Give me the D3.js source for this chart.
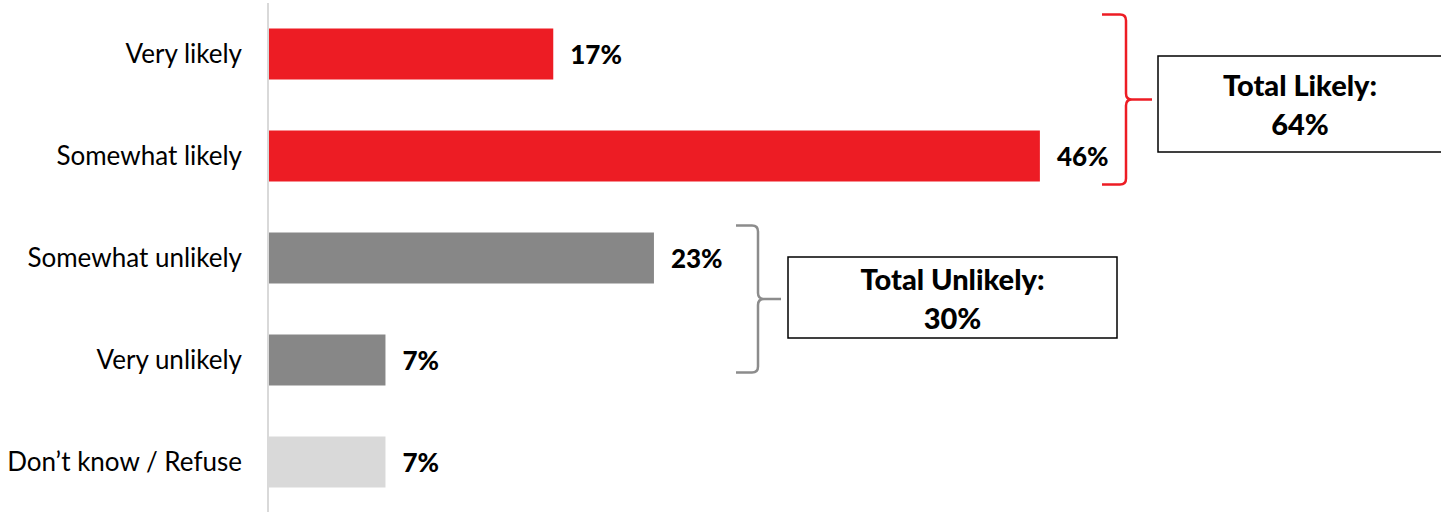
<!DOCTYPE html>
<html><head><meta charset="utf-8">
<script src="https://cdn.jsdelivr.net/npm/d3@7"></script>
<style>html,body{margin:0;padding:0;background:#fff;}svg{display:block;}</style>
</head><body>
<script>
const categories = ["Very likely", "Somewhat likely", "Somewhat unlikely", "Very unlikely", "Don\u2019t know / Refuse"];
const values = [17, 46, 23, 7, 7];
const colors = ["#ED1C24", "#ED1C24", "#878787", "#878787", "#D9D9D9"];
const groups = [
  {label: "Total Likely:", total: "64%", from: 0, to: 1, color: "#ED1C24"},
  {label: "Total Unlikely:", total: "30%", from: 2, to: 3, color: "#8C8C8C"}
];

const W = 1441, H = 512;
const svg = d3.select("body").append("svg").attr("width", W).attr("height", H);
const font = "Lato, 'Open Sans', sans-serif";

const x = d3.scaleLinear().domain([0, 100]).range([268, 268 + 1678]);
const y = d3.scaleBand().domain(categories).range([3, 513]).paddingInner(0.5).paddingOuter(0.25);

// axis line
svg.append("line").attr("x1", 268).attr("x2", 268).attr("y1", 3).attr("y2", H)
  .attr("stroke", "#D9D9D9").attr("stroke-width", 2);

svg.selectAll("rect.bar").data(categories).join("rect").attr("class", "bar")
  .attr("x", x(0) + 1).attr("y", d => y(d))
  .attr("width", (d, i) => x(values[i]) - x(0) - 1).attr("height", y.bandwidth())
  .attr("fill", (d, i) => colors[i]);

svg.selectAll("text.cat").data(categories).join("text").attr("class", "cat")
  .attr("x", 242).attr("y", d => y(d) + y.bandwidth() / 2)
  .attr("dy", "0.35em").attr("text-anchor", "end")
  .attr("font-family", font).attr("font-size", 26).attr("fill", "#000")
  .text(d => d);

svg.selectAll("text.val").data(categories).join("text").attr("class", "val")
  .attr("x", (d, i) => x(values[i]) + 17).attr("y", d => y(d) + y.bandwidth() / 2 + 1)
  .attr("dy", "0.35em").attr("font-family", font).attr("font-weight", "900")
  .attr("font-size", 26).attr("fill", "#000")
  .text((d, i) => values[i] + "%");

// brackets
function bracket(xl, xv, xt, y0, y1, color) {
  const ym = (y0 + y1) / 2, r = 6;
  const p = `M${xl},${y0} L${xv - r},${y0} Q${xv},${y0} ${xv},${y0 + r} L${xv},${ym - r} Q${xv},${ym} ${xv + r},${ym} L${xt},${ym} M${xv + r},${ym} Q${xv},${ym} ${xv},${ym + r} L${xv},${y1 - r} Q${xv},${y1} ${xv - r},${y1} L${xl},${y1}`;
  svg.append("path").attr("d", p).attr("fill", "none").attr("stroke", color).attr("stroke-width", 2.5);
}
const g0 = groups[0], g1 = groups[1];
bracket(1102, 1126, 1152, y(categories[g0.from]) - 14, y(categories[g0.to]) + y.bandwidth() + 3, g0.color);
bracket(736, 758, 781, y(categories[g1.from]) - 7, y(categories[g1.to]) + y.bandwidth() - 13, g1.color);

function box(x0, y0, w, h, g) {
  svg.append("rect").attr("x", x0).attr("y", y0).attr("width", w).attr("height", h)
    .attr("fill", "#fff").attr("stroke", "#000").attr("stroke-width", 1.5);
  const cx = x0 + w / 2;
  svg.append("text").attr("x", cx).attr("y", y0 + h / 2 - 18).attr("dy", "0.35em")
    .attr("text-anchor", "middle").attr("font-family", font).attr("font-weight", "900")
    .attr("font-size", 29).text(g.label);
  svg.append("text").attr("x", cx).attr("y", y0 + h / 2 + 21).attr("dy", "0.35em")
    .attr("text-anchor", "middle").attr("font-family", font).attr("font-weight", "900")
    .attr("font-size", 29).text(g.total);
}
box(1158, 56, 284, 96, g0);
box(788, 257, 329, 81, g1);
</script>
</body></html>
